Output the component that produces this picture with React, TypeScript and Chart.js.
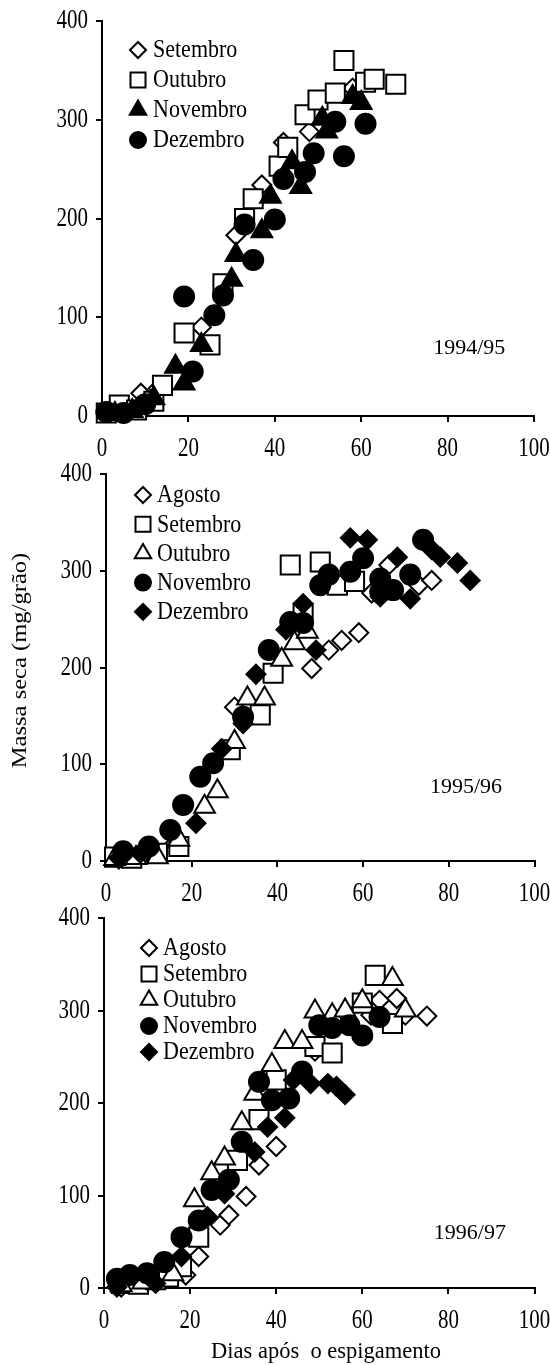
import React, { useEffect, useRef } from "react";
import { Chart, registerables } from "chart.js";

Chart.register(...registerables);

type Pt = [number, number];

// ---------- axes ----------
const xTickValues = [0, 20, 40, 60, 80, 100];
const yTickValues = [0, 100, 200, 300, 400];
const xAxisTitle = "Dias após  o espigamento";
const yAxisTitle = "Massa seca (mg/grão)";

// ---------- 1994/95 ----------
const season1 = "1994/95";
const s1Names = ["Setembro", "Outubro", "Novembro", "Dezembro"];
const s1Setembro: Pt[] = [[2, 4], [5, 6], [9, 23], [13, 28], [23, 90], [31, 183], [37, 234], [42, 277], [48, 288], [58, 332]];
const s1Outubro: Pt[] = [[1, 3], [4, 11], [8, 6], [12, 15], [14, 31], [19, 84], [25, 72], [28, 134], [33, 200], [35, 220], [41, 253], [43, 272], [47, 305], [50, 320], [54, 327], [56, 360], [61, 338], [63, 341], [68, 336]];
const s1Novembro: Pt[] = [[3, 2], [7, 5], [12, 18], [17, 50], [19, 33], [23, 72], [30, 138], [31, 163], [37, 187], [39, 222], [44, 257], [46, 232], [51, 301], [52, 288], [58, 323], [60, 317]];
const s1Dezembro: Pt[] = [[1, 4], [5, 3], [10, 12], [19, 121], [21, 45], [26, 102], [28, 122], [33, 194], [35, 158], [40, 199], [42, 240], [47, 247], [49, 266], [54, 298], [56, 263], [61, 296]];

// ---------- 1995/96 ----------
const season2 = "1995/96";
const s2Names = ["Agosto", "Setembro", "Outubro", "Novembro", "Dezembro"];
const s2Agosto: Pt[] = [[3, 2], [8, 5], [16, 18], [30, 159], [48, 199], [52, 218], [55, 228], [59, 236], [62, 277], [66, 306], [73, 285], [76, 290]];
const s2Setembro: Pt[] = [[2, 4], [6, 3], [12, 8], [17, 15], [29, 115], [36, 151], [39, 194], [43, 306], [46, 256], [50, 309], [54, 285], [58, 289]];
const s2Outubro: Pt[] = [[2, 2], [7, 3], [12, 4], [17, 22], [23, 56], [26, 72], [30, 123], [33, 168], [37, 168], [41, 208], [44, 225], [47, 237]];
const s2Novembro: Pt[] = [[4, 10], [10, 15], [15, 32], [18, 58], [22, 87], [25, 101], [32, 149], [38, 218], [43, 247], [46, 246], [50, 285], [52, 296], [57, 299], [60, 313], [64, 278], [64, 292], [67, 280], [71, 296], [74, 332]];
const s2Dezembro: Pt[] = [[3, 3], [8, 8], [21, 39], [27, 116], [32, 142], [35, 193], [42, 239], [46, 266], [49, 218], [57, 334], [61, 332], [64, 273], [68, 314], [71, 271], [76, 322], [78, 314], [82, 308], [85, 290]];

// ---------- 1996/97 ----------
const season3 = "1996/97";
const s3Names = ["Agosto", "Setembro", "Outubro", "Novembro", "Dezembro"];
const s3Agosto: Pt[] = [[4, 1], [19, 14], [22, 34], [27, 68], [29, 79], [33, 99], [36, 133], [40, 153], [49, 256], [62, 295], [64, 311], [68, 313], [70, 295], [75, 294]];
const s3Setembro: Pt[] = [[4, 5], [8, 4], [12, 9], [15, 12], [18, 23], [22, 55], [31, 138], [36, 182], [40, 225], [49, 261], [53, 254], [60, 308], [63, 338], [67, 286]];
const s3Outubro: Pt[] = [[4, 3], [9, 6], [16, 15], [21, 95], [25, 124], [28, 140], [32, 178], [35, 210], [39, 241], [42, 266], [46, 266], [49, 299], [53, 295], [56, 300], [60, 310], [67, 334], [70, 300]];
const s3Novembro: Pt[] = [[3, 10], [6, 14], [10, 16], [14, 28], [18, 55], [22, 73], [25, 106], [29, 117], [32, 158], [36, 223], [39, 203], [43, 205], [46, 234], [50, 284], [53, 281], [57, 284], [60, 273], [64, 293]];
const s3Dezembro: Pt[] = [[3, 1], [12, 5], [18, 34], [24, 77], [28, 102], [35, 147], [38, 174], [42, 184], [44, 225], [48, 221], [52, 221], [54, 218], [56, 209]];

// ---------- styles ----------
type Shape = "diamond" | "square" | "triangle" | "circle";
interface MarkerStyle { shape: Shape; filled: boolean; }
const openDiamond: MarkerStyle = { shape: "diamond", filled: false };
const openSquare: MarkerStyle = { shape: "square", filled: false };
const openTriangle: MarkerStyle = { shape: "triangle", filled: false };
const fullTriangle: MarkerStyle = { shape: "triangle", filled: true };
const fullCircle: MarkerStyle = { shape: "circle", filled: true };
const fullDiamond: MarkerStyle = { shape: "diamond", filled: true };

const FONT = "'Liberation Serif', 'Times New Roman', Times, serif";

const chartStyle: Record<Shape, { pointStyle: string; radius: number }> = {
  diamond: { pointStyle: "rectRot", radius: 9.5 },
  square: { pointStyle: "rect", radius: 13.5 },
  triangle: { pointStyle: "triangle", radius: 12 },
  circle: { pointStyle: "circle", radius: 10 },
};

function drawLegendShape(ctx: CanvasRenderingContext2D, st: MarkerStyle, x: number, y: number) {
  ctx.save();
  ctx.beginPath();
  if (st.shape === "diamond") {
    const r = 8;
    ctx.moveTo(x - r, y); ctx.lineTo(x, y - r); ctx.lineTo(x + r, y); ctx.lineTo(x, y + r); ctx.closePath();
  } else if (st.shape === "square") {
    const h = 7.5;
    ctx.rect(x - h, y - h, 2 * h, 2 * h);
  } else if (st.shape === "triangle") {
    const r = 9.5;
    ctx.moveTo(x, y - r);
    ctx.lineTo(x + r * Math.sin((2 * Math.PI) / 3), y - r * Math.cos((2 * Math.PI) / 3));
    ctx.lineTo(x + r * Math.sin((4 * Math.PI) / 3), y - r * Math.cos((4 * Math.PI) / 3));
    ctx.closePath();
  } else {
    ctx.arc(x, y, 8, 0, Math.PI * 2);
  }
  ctx.fillStyle = st.filled ? "#000" : "#fff";
  ctx.fill();
  ctx.lineWidth = 2;
  ctx.strokeStyle = "#000";
  ctx.stroke();
  ctx.restore();
}

function stretchedText(
  ctx: CanvasRenderingContext2D, text: string, x: number, y: number,
  size: number, sy: number, align: CanvasTextAlign, rot = 0
) {
  ctx.save();
  ctx.translate(x, y);
  if (rot) ctx.rotate(rot);
  ctx.scale(rot ? sy : 1, rot ? 1 : sy);
  ctx.font = `${size}px ${FONT}`;
  ctx.fillStyle = "#000";
  ctx.textAlign = align;
  ctx.textBaseline = "middle";
  ctx.fillText(text, 0, 0);
  ctx.restore();
}

interface SeriesDef { name: string; data: Pt[]; style: MarkerStyle; }
interface PanelDef {
  season: string;
  seasonAt: Pt;
  series: SeriesDef[];
  top: number;
  height: number;
  padTop: number;
  yWidth: number;
  padRight: number;
  xHeight: number;
  legendSymX: number;
  legendTextX: number;
  legendRow0: number;
  legendStep: number;
  showYTitle: boolean;
  showXTitle: boolean;
}

const panels: PanelDef[] = [
  {
    season: season1, seasonAt: [85, 69],
    series: [
      { name: s1Names[0], data: s1Setembro, style: openDiamond },
      { name: s1Names[1], data: s1Outubro, style: openSquare },
      { name: s1Names[2], data: s1Novembro, style: fullTriangle },
      { name: s1Names[3], data: s1Dezembro, style: fullCircle },
    ],
    top: 0, height: 470, padTop: 21, yWidth: 102, padRight: 16, xHeight: 54,
    legendSymX: 36, legendTextX: 51, legendRow0: 29, legendStep: 30,
    showYTitle: false, showXTitle: false,
  },
  {
    season: season2, seasonAt: [84, 76.5],
    series: [
      { name: s2Names[0], data: s2Agosto, style: openDiamond },
      { name: s2Names[1], data: s2Setembro, style: openSquare },
      { name: s2Names[2], data: s2Outubro, style: openTriangle },
      { name: s2Names[3], data: s2Novembro, style: fullCircle },
      { name: s2Names[4], data: s2Dezembro, style: fullDiamond },
    ],
    top: 450, height: 460, padTop: 24, yWidth: 106, padRight: 13, xHeight: 49,
    legendSymX: 37, legendTextX: 51, legendRow0: 21, legendStep: 29.2,
    showYTitle: true, showXTitle: false,
  },
  {
    season: season3, seasonAt: [85, 59.5],
    series: [
      { name: s3Names[0], data: s3Agosto, style: openDiamond },
      { name: s3Names[1], data: s3Setembro, style: openSquare },
      { name: s3Names[2], data: s3Outubro, style: openTriangle },
      { name: s3Names[3], data: s3Novembro, style: fullCircle },
      { name: s3Names[4], data: s3Dezembro, style: fullDiamond },
    ],
    top: 895, height: 470, padTop: 23, yWidth: 104, padRight: 14, xHeight: 77,
    legendSymX: 45, legendTextX: 59, legendRow0: 30, legendStep: 26,
    showYTitle: false, showXTitle: true,
  },
];

function Panel({ def }: { def: PanelDef }) {
  const ref = useRef<HTMLCanvasElement | null>(null);
  useEffect(() => {
    if (!ref.current) return;
    const n = def.series.length;
    const datasets = def.series.map((s, i) => {
      const cs = chartStyle[s.style.shape];
      return {
        label: s.name,
        data: s.data.map(([x, y]) => ({ x, y })),
        pointStyle: cs.pointStyle,
        pointRadius: cs.radius,
        pointHoverRadius: cs.radius,
        pointBackgroundColor: s.style.filled ? "#000" : "#fff",
        pointBorderColor: "#000",
        pointBorderWidth: 2,
        showLine: false,
        clip: false as any,
        order: n - i,
      };
    });

    const overlay = {
      id: "overlay",
      beforeDatasetsDraw(chart: any) {
        const ctx: CanvasRenderingContext2D = chart.ctx;
        const area = chart.chartArea;
        const xs = chart.scales.x;
        const ys = chart.scales.y;
        // tick labels
        xTickValues.forEach((v) => {
          stretchedText(ctx, String(v), xs.getPixelForValue(v), area.bottom + 33, 21, 1.28, "center");
        });
        yTickValues.forEach((v) => {
          stretchedText(ctx, String(v), area.left - 14, ys.getPixelForValue(v), 21, 1.28, "right");
        });
        if (def.showYTitle) {
          stretchedText(ctx, yAxisTitle, 20, (area.top + area.bottom) / 2 - 7, 21, 1.17, "center", -Math.PI / 2);
        }
        if (def.showXTitle) {
          stretchedText(ctx, xAxisTitle, 326, area.bottom + 64, 22.5, 1.0, "center");
        }
      },
      afterDatasetsDraw(chart: any) {
        const ctx: CanvasRenderingContext2D = chart.ctx;
        const area = chart.chartArea;
        def.series.forEach((s, i) => {
          const y = area.top + def.legendRow0 + i * def.legendStep;
          drawLegendShape(ctx, s.style, area.left + def.legendSymX, y);
          stretchedText(ctx, s.name, area.left + def.legendTextX, y + 1, 22, 1.12, "left");
        });
        stretchedText(
          ctx, def.season,
          chart.scales.x.getPixelForValue(def.seasonAt[0]),
          chart.scales.y.getPixelForValue(def.seasonAt[1]),
          22, 1.0, "center"
        );
      },
    };

    const chart = new Chart(ref.current, {
      type: "scatter",
      data: { datasets: datasets as any },
      options: {
        responsive: false,
        animation: false,
        events: [],
        layout: { padding: { top: def.padTop, right: def.padRight, left: 0, bottom: 0 } },
        plugins: { legend: { display: false }, tooltip: { enabled: false } },
        scales: {
          x: {
            type: "linear",
            min: 0,
            max: 100,
            afterBuildTicks: (s: any) => { s.ticks = xTickValues.map((v) => ({ value: v })); },
            afterFit: (s: any) => { s.height = def.xHeight; s.paddingLeft = 0; s.paddingRight = 0; },
            ticks: { display: false },
            grid: { display: true, drawOnChartArea: false, drawTicks: true, tickLength: 6, color: "#000", lineWidth: 2 },
            border: { display: true, color: "#000", width: 2 },
          },
          y: {
            type: "linear",
            min: 0,
            max: 400,
            afterBuildTicks: (s: any) => { s.ticks = yTickValues.map((v) => ({ value: v })); },
            afterFit: (s: any) => { s.width = def.yWidth; s.paddingTop = 0; s.paddingBottom = 0; },
            ticks: { display: false },
            grid: { display: true, drawOnChartArea: false, drawTicks: true, tickLength: 6, color: "#000", lineWidth: 2 },
            border: { display: true, color: "#000", width: 2 },
          },
        },
      },
      plugins: [overlay],
    } as any);
    return () => chart.destroy();
  }, [def]);

  return (
    <canvas
      ref={ref}
      width={550}
      height={def.height}
      style={{ position: "absolute", left: 0, top: def.top, width: 550, height: def.height, display: "block" }}
    />
  );
}

export default function App() {
  return (
    <div style={{ position: "absolute", left: 0, top: 0, width: 550, height: 1365, background: "#fff" }}>
      {panels.map((p, i) => (
        <Panel key={i} def={p} />
      ))}
    </div>
  );
}
